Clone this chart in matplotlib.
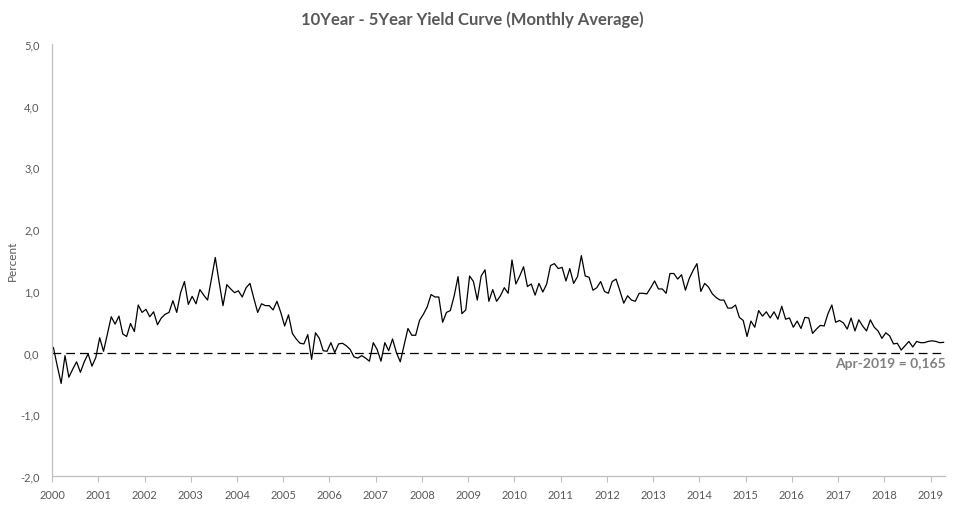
#!/usr/bin/env python3
"""
10Year - 5Year yield curve spread, monthly average, Jan 2000 - Apr 2019
"""

import matplotlib
matplotlib.use('Agg')
import matplotlib.pyplot as plt
import numpy as np

# Monthly spread (percent), Jan 2000 onwards
spread = [
    0.08, -0.22, -0.50, -0.05, -0.40, -0.27, -0.15, -0.32, -0.15, -0.02, -0.22, -0.08,   # 2000
    0.24, 0.02, 0.30, 0.58, 0.46, 0.59, 0.30, 0.26, 0.47, 0.34, 0.77, 0.65,             # 2001
    0.70, 0.58, 0.66, 0.45, 0.56, 0.62, 0.65, 0.84, 0.65, 0.97, 1.15, 0.78,             # 2002
    0.91, 0.79, 1.02, 0.93, 0.85, 1.19, 1.54, 1.14, 0.76, 1.10, 1.03, 0.97,             # 2003
    1.00, 0.90, 1.05, 1.12, 0.88, 0.65, 0.79, 0.76, 0.76, 0.69, 0.83, 0.65,             # 2004
    0.43, 0.61, 0.31, 0.22, 0.15, 0.14, 0.29, -0.11, 0.32, 0.23, 0.03, 0.02,            # 2005
    0.16, 0.00, 0.14, 0.15, 0.11, 0.05, -0.07, -0.09, -0.05, -0.09, -0.14, 0.16,        # 2006
    0.05, -0.14, 0.16, 0.03, 0.22, 0.00, -0.15, 0.12, 0.39, 0.28, 0.28, 0.52,           # 2007
    0.62, 0.74, 0.94, 0.90, 0.90, 0.49, 0.65, 0.68, 0.92, 1.23, 0.63, 0.69,             # 2008
    1.24, 1.15, 0.85, 1.24, 1.34, 0.83, 1.02, 0.83, 0.92, 1.05, 0.96, 1.50,             # 2009
    1.11, 1.24, 1.39, 1.07, 1.11, 0.93, 1.12, 0.98, 1.11, 1.41, 1.44, 1.36,             # 2010
    1.38, 1.16, 1.36, 1.12, 1.23, 1.57, 1.24, 1.22, 1.01, 1.05, 1.15, 0.99,             # 2011
    0.96, 1.15, 1.19, 1.00, 0.80, 0.92, 0.85, 0.83, 0.96, 0.96, 0.95, 1.05,             # 2012
    1.16, 1.03, 1.03, 0.96, 1.28, 1.28, 1.19, 1.26, 1.01, 1.20, 1.33, 1.44,             # 2013
    0.99, 1.12, 1.06, 0.95, 0.89, 0.85, 0.85, 0.72, 0.72, 0.77, 0.57, 0.52,             # 2014
    0.26, 0.51, 0.41, 0.68, 0.59, 0.66, 0.56, 0.66, 0.54, 0.75, 0.54, 0.56,             # 2015
    0.41, 0.51, 0.39, 0.57, 0.56, 0.31, 0.38, 0.44, 0.43, 0.63, 0.77, 0.49,             # 2016
    0.52, 0.48, 0.38, 0.56, 0.35, 0.53, 0.43, 0.35, 0.53, 0.41, 0.35, 0.23,             # 2017
    0.32, 0.27, 0.14, 0.15, 0.04, 0.11, 0.18, 0.09, 0.18, 0.16, 0.16, 0.18,             # 2018
    0.19, 0.18, 0.16, 0.165,                                                            # 2019
]
start_year = 2000
year_ticks = list(range(2000, 2020))
y_ticks = [-2, -1, 0, 1, 2, 3, 4, 5]
last_label = 'Apr-2019 = 0,165'

title = '10Year - 5Year Yield Curve (Monthly Average)'

plt.rcParams['font.family'] = ['Lato', 'DejaVu Sans']

text_col = '#595959'
axis_col = '#BFBFBF'

fig = plt.figure(figsize=(9.55, 5.06), dpi=100)
ax = fig.add_axes([0.0545, 0.0573, 0.935, 0.854])

months = start_year + np.arange(len(spread)) / 12.0 + 0.03
ax.plot(months, spread, color='black', linewidth=0.9)
ax.axhline(0, color='black', linewidth=0.9, linestyle=(0, (7, 4)))

ax.set_xlim(2000, 2019.31)
ax.set_ylim(-2, 5)
ax.set_xticks(year_ticks)
ax.set_xticklabels([str(y) for y in year_ticks], fontsize=8, color=text_col)
ax.set_yticks(y_ticks)
ax.set_yticklabels([f'{v:.1f}'.replace('.', ',') for v in y_ticks],
                   fontsize=8, color=text_col)
ax.tick_params(axis='y', length=0, pad=9)
ax.tick_params(axis='x', length=4, color=axis_col, pad=5)

for side in ['top', 'right']:
    ax.spines[side].set_visible(False)
for side in ['left', 'bottom']:
    ax.spines[side].set_color(axis_col)
    ax.spines[side].set_linewidth(0.9)

ax.set_ylabel('Percent', fontsize=8.5, color=text_col)
ax.yaxis.set_label_coords(-0.038, 0.5)

fig.text(0.495, 0.962, title, ha='center', va='center',
         fontsize=12, fontweight='bold', color=text_col)

ax.text(2019.33, -0.08, last_label, ha='right', va='top',
        fontsize=10, fontweight='bold', color='#808080')

fig.savefig('out.png', dpi=100, facecolor='white')
